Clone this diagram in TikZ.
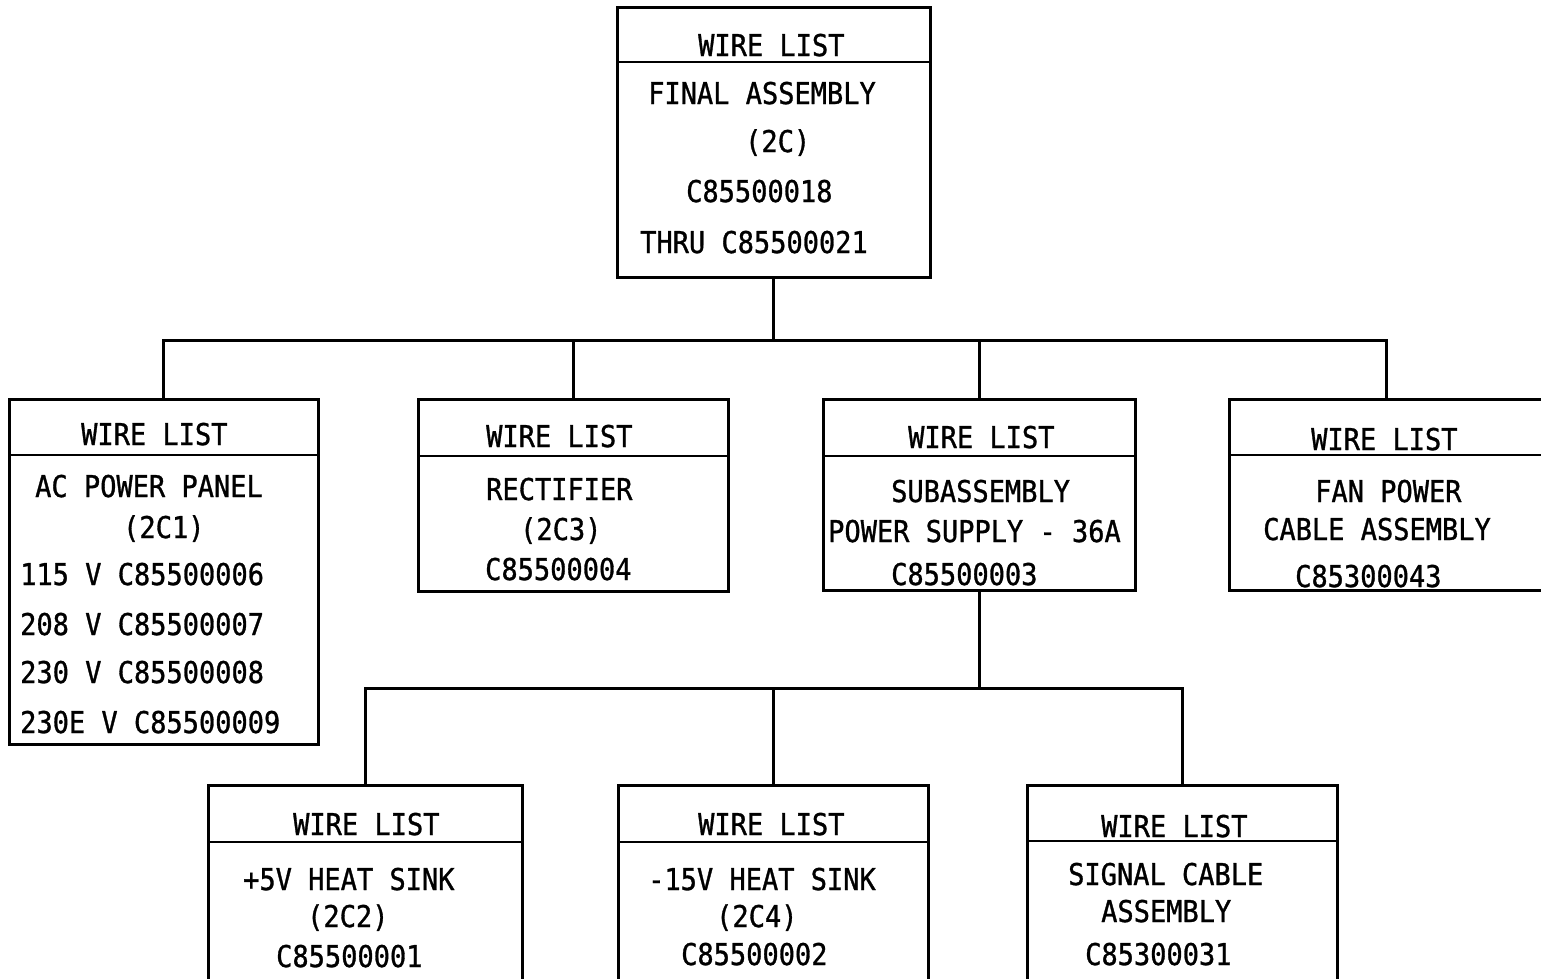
\documentclass[tikz,border=0pt]{standalone}
\usepackage{fontspec}
\newfontfamily\typ[FakeStretch=0.9,FakeBold=1]{DejaVu Sans Mono}
\begin{document}
\begin{tikzpicture}[x=1pt,y=-1pt,
  box/.style={draw, line width=3pt, rectangle, inner sep=0pt, outer sep=0pt},
  hdr/.style={line width=2.4pt},
  conn/.style={line width=3pt},
  txt/.style={font={\typ\fontsize{30}{36}\selectfont}, inner sep=0pt, anchor=base west}]
\useasboundingbox (0,0) rectangle (1541,978);
\clip (0,0) rectangle (1541,978);
\fill[white] (0,0) rectangle (1541,978);

% boxes
\node[box, minimum width=313pt, minimum height=270pt] (top) at (773.5,142) {};
\node[box, minimum width=309pt, minimum height=345pt] (ac) at (163.5,571.5) {};
\node[box, minimum width=310pt, minimum height=192pt] (rect) at (573,495) {};
\node[box, minimum width=312pt, minimum height=191pt] (sub) at (979,494.5) {};
\node[box, minimum width=314pt, minimum height=191pt] (fan) at (1386,494.5) {};
\node[box, minimum width=314pt, minimum height=205pt] (plus5) at (365,887.5) {};
\node[box, minimum width=310pt, minimum height=205pt] (minus15) at (773,887.5) {};
\node[box, minimum width=310pt, minimum height=205pt] (sig) at (1182,887.5) {};

% header lines
\draw[hdr] (top.west |- 0,62) -- (top.east |- 0,62);
\draw[hdr] (ac.west |- 0,455) -- (ac.east |- 0,455);
\draw[hdr] (rect.west |- 0,456) -- (rect.east |- 0,456);
\draw[hdr] (sub.west |- 0,456) -- (sub.east |- 0,456);
\draw[hdr] (fan.west |- 0,455) -- (fan.east |- 0,455);
\draw[hdr] (plus5.west |- 0,842) -- (plus5.east |- 0,842);
\draw[hdr] (minus15.west |- 0,842) -- (minus15.east |- 0,842);
\draw[hdr] (sig.west |- 0,841) -- (sig.east |- 0,841);

% connectors
\coordinate (bus1) at (top.south |- 0,340);
\draw[conn] (top.south) -- (bus1);
\draw[conn] (ac.north) |- (bus1) -| (fan.north);
\draw[conn] (rect.north) -- (rect.north |- bus1);
\draw[conn] (sub.north) -- (sub.north |- bus1);
\coordinate (bus2) at (sub.south |- 0,688);
\draw[conn] (sub.south) -- (bus2);
\draw[conn] (plus5.north) |- (bus2) -| (sig.north);
\draw[conn] (minus15.north) -- (minus15.north |- bus2);

% texts: top
\node[txt] (t1) at (698,56) {WIRE LIST};
\node[txt] (t2) at (648,104) {FINAL ASSEMBLY};
\node[txt] (t3) at (745,152) {(2C)};
\node[txt] (t4) at (686,202) {C85500018};
\node[txt] (t5) at (640,253) {THRU C85500021};
% ac
\node[txt] (a1) at (81,445) {WIRE LIST};
\node[txt] (a2) at (35,497) {AC POWER PANEL};
\node[txt] (a3) at (123,538) {(2C1)};
\node[txt] (a4) at (20,585) {115 V C85500006};
\node[txt] (a5) at (20,635) {208 V C85500007};
\node[txt] (a6) at (20,683) {230 V C85500008};
\node[txt] (a7) at (20,733) {230E V C85500009};
% rectifier
\node[txt] (r1) at (486,447) {WIRE LIST};
\node[txt] (r2) at (486,500) {RECTIFIER};
\node[txt] (r3) at (520,540) {(2C3)};
\node[txt] (r4) at (485,580) {C85500004};
% subassembly
\node[txt] (s1) at (908,448) {WIRE LIST};
\node[txt] (s2) at (891,502) {SUBASSEMBLY};
\node[txt] (s3) at (828,542) {POWER SUPPLY - 36A};
\node[txt] (s4) at (891,585) {C85500003};
% fan
\node[txt] (f1) at (1311,450) {WIRE LIST};
\node[txt] (f2) at (1315,502) {FAN POWER};
\node[txt] (f3) at (1263,540) {CABLE ASSEMBLY};
\node[txt] (f4) at (1295,587) {C85300043};
% +5V
\node[txt] (p1) at (293,835) {WIRE LIST};
\node[txt] (p2) at (243,890) {+5V HEAT SINK};
\node[txt] (p3) at (307,927) {(2C2)};
\node[txt] (p4) at (276,967) {C85500001};
% -15V
\node[txt] (m1) at (698,835) {WIRE LIST};
\node[txt] (m2) at (648,890) {-15V HEAT SINK};
\node[txt] (m3) at (716,927) {(2C4)};
\node[txt] (m4) at (681,965) {C85500002};
% signal
\node[txt] (g1) at (1101,837) {WIRE LIST};
\node[txt] (g2) at (1068,885) {SIGNAL CABLE};
\node[txt] (g3) at (1101,922) {ASSEMBLY};
\node[txt] (g4) at (1085,965) {C85300031};
\end{tikzpicture}
\end{document}
